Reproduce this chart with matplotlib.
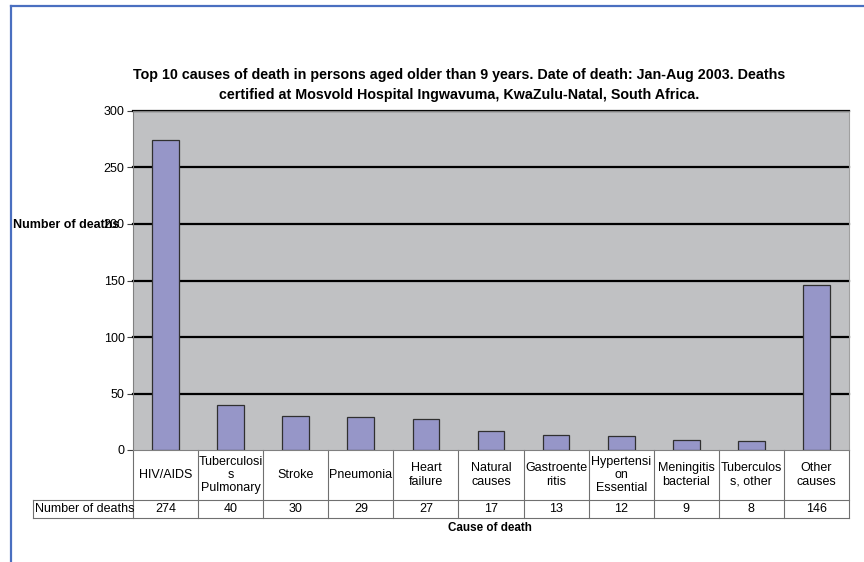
import matplotlib.pyplot as plt
from matplotlib.lines import Line2D

plt.rcParams['font.family'] = ['Liberation Sans', 'DejaVu Sans']

# data
causes = ['HIV/AIDS', 'Tuberculosi\ns\nPulmonary', 'Stroke', 'Pneumonia',
          'Heart\nfailure', 'Natural\ncauses', 'Gastroente\nritis',
          'Hypertensi\non\nEssential', 'Meningitis\nbacterial',
          'Tuberculos\ns, other', 'Other\ncauses']
deaths = [274, 40, 30, 29, 27, 17, 13, 12, 9, 8, 146]
yticks = [0, 50, 100, 150, 200, 250, 300]

W, H = 864, 562
fig = plt.figure(figsize=(W / 100, H / 100), dpi=100)

# blue frame round the chart (top, left, right-off-page)
blue = '#4a6fc0'
fig.add_artist(Line2D([11 / W, 11 / W], [0, 1 - 6 / H], color=blue, lw=1.6))
fig.add_artist(Line2D([11 / W, 1], [1 - 6 / H, 1 - 6 / H], color=blue, lw=1.6))

left, right, top, bottom = 133, 849, 111, 450
ax = fig.add_axes([left / W, 1 - bottom / H, (right - left) / W, (bottom - top) / H])
ax.set_facecolor('#c0c1c3')

n = len(causes)
x = list(range(n))
ax.bar(x, deaths, width=0.41, color='#9696c8', edgecolor='#303030', linewidth=0.9, zorder=3)
ax.set_xlim(-0.5, n - 0.5)
ax.set_ylim(0, 300)
ax.set_yticks(yticks)
ax.set_xticks([])
for v in yticks[1:]:
    ax.axhline(v, color='black', lw=1.6, zorder=2, clip_on=False)
for s in ax.spines.values():
    s.set_color('#808080')
    s.set_linewidth(0.8)
ax.spines['right'].set_color('#a0a0a0')
ax.tick_params(axis='y', length=4, width=0.8, color='#404040', labelsize=9, pad=2)

# data table under the axis
row1 = -50 / (bottom - top)
row2 = -68 / (bottom - top)
lab_left = (33 - left) / (right - left)
tc = '#707070'
tr = ax.transAxes
for i in range(n + 1):
    ax.plot([i / n, i / n], [0, row2], color=tc, lw=0.8, transform=tr, clip_on=False)
ax.plot([lab_left, 1], [row1, row1], color=tc, lw=0.8, transform=tr, clip_on=False)
ax.plot([lab_left, 1], [row2, row2], color=tc, lw=0.8, transform=tr, clip_on=False)
ax.plot([lab_left, lab_left], [row1, row2], color=tc, lw=0.8, transform=tr, clip_on=False)
for i, (c, d) in enumerate(zip(causes, deaths)):
    xc = (i + 0.5) / n
    ax.text(xc, row1 / 2, c, transform=tr, ha='center', va='center', fontsize=9,
            linespacing=1.15)
    ax.text(xc, (row1 + row2) / 2, str(d), transform=tr, ha='center', va='center',
            fontsize=9)
ax.text(lab_left + 0.003, (row1 + row2) / 2, 'Number of deaths', transform=tr,
        ha='left', va='center', fontsize=9)

fig.text(459 / W, 1 - 85 / H,
         'Top 10 causes of death in persons aged older than 9 years. Date of death: Jan-Aug 2003. Deaths\n'
         'certified at Mosvold Hospital Ingwavuma, KwaZulu-Natal, South Africa.',
         ha='center', va='center', fontsize=10.3, fontweight='bold', linespacing=1.5)
fig.text(13 / W, 1 - 225 / H, 'Number of deaths', ha='left', va='center',
         fontsize=9, fontweight='bold')
fig.text(490 / W, 1 - 528 / H, 'Cause of death', ha='center', va='center',
         fontsize=8.4, fontweight='bold')

fig.savefig('out.png', dpi=100)
